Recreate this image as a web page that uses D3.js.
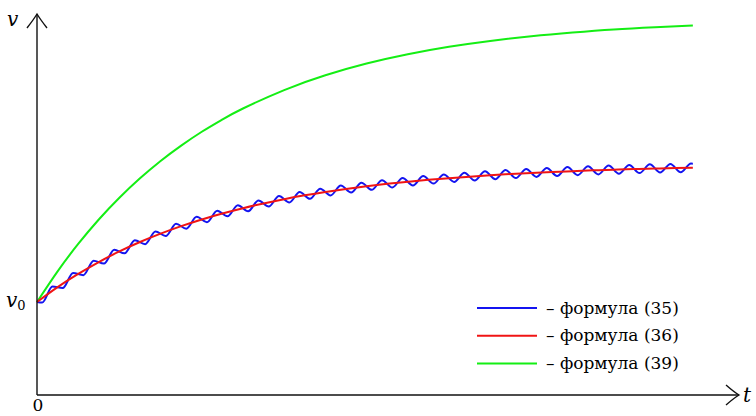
<!DOCTYPE html>
<html><head><meta charset="utf-8">
<script src="https://cdn.jsdelivr.net/npm/d3@7"></script>
<style>html,body{margin:0;padding:0;background:#fff;}svg{display:block;}</style>
</head><body>
<svg id="c" width="756" height="416"></svg>
<script>
// axis extents (t in oscillation periods, v with v0 = 1)
const tMax = 34.08;
const vMax = 4.097;
const v0 = 1;

// formula (36) – red
const redT = [0,1,2,3,4,5,6,7,8,9,10,11,12,13,14,15,16,17,18,19,20,21,22,23,24,25,26,27,28,29,30,31,31.84];
const redV = [1.000,1.160,1.302,1.430,1.544,1.645,1.735,1.816,1.888,1.952,2.009,2.060,2.106,2.147,2.183,2.215,2.245,2.271,2.293,2.314,2.332,2.348,2.363,2.376,2.388,2.398,2.407,2.416,2.423,2.430,2.435,2.441,2.444];

// formula (39) – green
const greenT = [0,1,2,3,4,5,6,7,8,9,10,12,14,16,18,20,22,24,26,28,30,31.84];
const greenV = [1.000,1.330,1.624,1.887,2.121,2.330,2.517,2.682,2.831,2.963,3.081,3.279,3.438,3.564,3.664,3.744,3.807,3.857,3.897,3.930,3.954,3.973];

// formula (35) – blue: start, alternating troughs / peaks, end
const blueT = [0,
 0.25,0.75,1.25,1.75,2.25,2.75,3.25,3.75,4.25,4.75,5.25,5.75,6.25,6.75,7.25,7.75,
 8.25,8.75,9.25,9.75,10.25,10.75,11.25,11.75,12.25,12.75,13.25,13.75,14.25,14.75,15.25,15.75,
 16.25,16.75,17.25,17.75,18.25,18.75,19.25,19.75,20.25,20.75,21.25,21.75,22.25,22.75,23.25,23.75,
 24.25,24.75,25.25,25.75,26.25,26.75,27.25,27.75,28.25,28.75,29.25,29.75,30.25,30.75,31.25,31.75,
 31.84];
const blueV = [1.000,
 0.994,1.166,1.150,1.313,1.289,1.444,1.413,1.561,1.523,1.665,1.622,1.758,1.710,1.841,1.789,1.916,
 1.858,1.981,1.921,2.040,1.976,2.092,2.026,2.140,2.071,2.182,2.110,2.219,2.146,2.252,2.177,2.283,
 2.206,2.310,2.231,2.333,2.253,2.354,2.273,2.372,2.291,2.390,2.306,2.405,2.321,2.419,2.333,2.431,
 2.345,2.441,2.355,2.451,2.364,2.459,2.372,2.467,2.379,2.473,2.386,2.480,2.392,2.485,2.396,2.489,
 2.488];

const legendLabels = ["– формула (35)", "– формула (36)", "– формула (39)"];
const colors = ["#1414f0", "#f01414", "#14ee14"];

const svg = d3.select("#c");
const x = d3.scaleLinear().domain([0, tMax]).range([37, 739]);
const y = d3.scaleLinear().domain([0, vMax]).range([395, 14]);

const line = d3.line().x(d => x(d[0])).y(d => y(d[1]));
const zip = (a, b) => a.map((t, i) => [t, b[i]]);

// curves
svg.append("path").datum(zip(greenT, greenV))
  .attr("d", line.curve(d3.curveNatural)).attr("fill", "none")
  .attr("stroke", colors[2]).attr("stroke-width", 2);
svg.append("path").datum(zip(blueT, blueV))
  .attr("d", line.curve(d3.curveMonotoneX)).attr("fill", "none")
  .attr("stroke", colors[0]).attr("stroke-width", 2);
svg.append("path").datum(zip(redT, redV))
  .attr("d", line.curve(d3.curveNatural)).attr("fill", "none")
  .attr("stroke", colors[1]).attr("stroke-width", 2);

// axes
const ax = svg.append("g").attr("stroke", "#111").attr("fill", "none").attr("stroke-width", 1.4);
ax.append("line").attr("x1", x(0)).attr("y1", y(0)).attr("x2", x(tMax)).attr("y2", y(0));
ax.append("line").attr("x1", x(0)).attr("y1", y(0)).attr("x2", x(0)).attr("y2", y(vMax));
// arrow heads
const tx = x(tMax), ty = y(0);
ax.append("path").attr("d", `M${tx-13},${ty-10} Q${tx-5},${ty-3} ${tx},${ty} Q${tx-5},${ty+3} ${tx-13},${ty+10}`);
const ux = x(0), uy = y(vMax);
ax.append("path").attr("d", `M${ux-10},${uy+14} Q${ux-3},${uy+5} ${ux},${uy} Q${ux+3},${uy+5} ${ux+10},${uy+14}`);

// labels
const serif = "DejaVu Serif";
svg.append("text").attr("font-family", serif).attr("x", 7).attr("y", 26).attr("font-style", "italic")
  .attr("font-size", 20).text("v");
svg.append("text").attr("font-family", serif).attr("x", 743).attr("y", 402).attr("font-style", "italic")
  .attr("font-size", 20).text("t");
svg.append("text").attr("font-family", serif).attr("x", x(0)+1).attr("y", 411).attr("text-anchor", "middle")
  .attr("font-size", 17).text("0");
const v0t = svg.append("text").attr("font-family", serif).attr("x", 6).attr("y", y(v0)+5).attr("font-size", 20);
v0t.append("tspan").attr("font-style", "italic").text("v");
v0t.append("tspan").attr("font-size", 13).attr("dy", 3).text("0");

// legend
const lg = svg.append("g");
legendLabels.forEach((lab, i) => {
  const yy = 308 + i * 27.8;
  lg.append("line").attr("x1", 477).attr("x2", 537).attr("y1", yy).attr("y2", yy)
    .attr("stroke", colors[i]).attr("stroke-width", 2);
  lg.append("text").attr("font-family", serif).attr("x", 546).attr("y", yy + 5.5)
    .attr("font-size", 17).text(lab);
});
</script>
</body></html>
